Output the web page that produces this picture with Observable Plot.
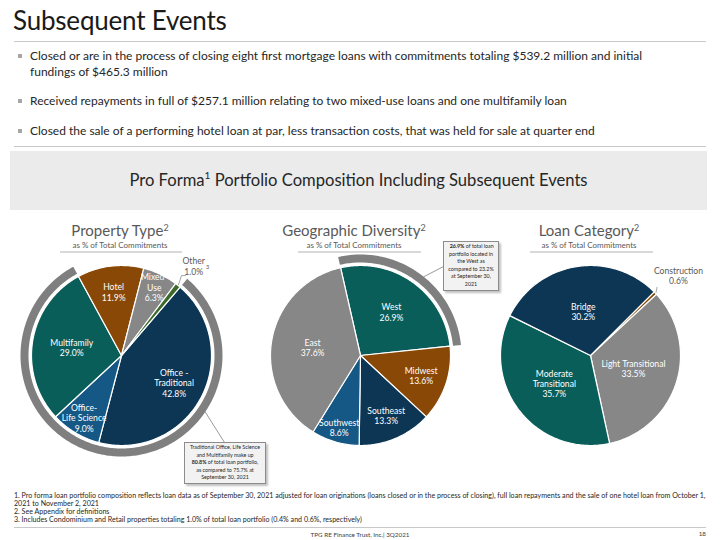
<!DOCTYPE html>
<html><head><meta charset="utf-8">
<script src="https://cdn.jsdelivr.net/npm/d3@7"></script>
<script src="https://cdn.jsdelivr.net/npm/@observablehq/plot@0.6"></script>
<style>
body{margin:0;background:#fff;font-family:Lato,"Open Sans",sans-serif;}
#page{position:relative;width:720px;height:540px;overflow:hidden;background:#fff;}
.abs{position:absolute;white-space:nowrap;}
.rule{position:absolute;left:14px;width:692px;height:0;border-top:1.5px solid #c8c8c8;}
.bullet{position:absolute;left:30px;font-size:12px;color:#262626;line-height:16px;white-space:nowrap;}
.bullet::before{content:"";position:absolute;left:-12px;top:6px;width:4px;height:4px;background:#a6a6a6;}
.ptitle{position:absolute;width:200px;text-align:center;color:#595959;}
.ptitle .t{font-size:15px;line-height:18px;}
.ptitle .s{font-size:8px;line-height:10px;margin-top:1px;}
.ptitle sup{font-size:9px;vertical-align:top;position:relative;top:-2px;}
.uline{position:absolute;height:0;border-top:2px solid #d9d9d9;}
.callout{position:absolute;background:#f2f2f2;border:1px solid #8c8c8c;box-shadow:2px 2px 2px rgba(0,0,0,0.25);color:#262626;text-align:center;font-size:5.3px;line-height:7.6px;white-space:nowrap;box-sizing:border-box;padding-top:1px;}
.foot{position:absolute;left:14px;font-size:7.1px;line-height:7.9px;color:#262626;white-space:nowrap;}
#chart{position:absolute;left:0;top:212px;}
</style></head><body><div id="page">
<div class="abs" style="left:13px;top:4px;font-size:26px;letter-spacing:-0.2px;color:#1a1a1a;">Subsequent Events</div>
<div class="rule" style="top:41px;"></div>
<div class="bullet" style="top:48px;">Closed or are in the process of closing eight first mortgage loans with commitments totaling $539.2 million and initial<br>fundings of $465.3 million</div>
<div class="bullet" style="top:93px;">Received repayments in full of $257.1 million relating to two mixed-use loans and one multifamily loan</div>
<div class="bullet" style="top:123px;">Closed the sale of a performing hotel loan at par, less transaction costs, that was held for sale at quarter end</div>
<div class="rule" style="top:146px;"></div>
<div class="abs" style="left:10px;top:151px;width:697px;height:59px;background:#ebebeb;"></div>
<div class="abs" style="left:10px;top:170px;width:697px;text-align:center;font-size:16.6px;color:#262626;">Pro Forma<sup style="font-size:10px;vertical-align:top;position:relative;top:-1px;">1</sup> Portfolio Composition Including Subsequent Events</div>
<div id="chart"></div>
<div class="ptitle" style="left:20px;top:221px;"><div class="t">Property Type<sup>2</sup></div><div class="s">as % of Total Commitments</div></div>
<div class="ptitle" style="left:254px;top:221px;"><div class="t">Geographic Diversity<sup>2</sup></div><div class="s">as % of Total Commitments</div></div>
<div class="ptitle" style="left:489px;top:221px;"><div class="t">Loan Category<sup>2</sup></div><div class="s">as % of Total Commitments</div></div>
<div class="uline" style="left:60px;width:122px;top:251px;"></div>
<div class="uline" style="left:298px;width:123px;top:251px;"></div>
<div class="uline" style="left:530px;width:123px;top:251px;"></div>
<div class="callout" style="left:184px;top:442px;width:82px;height:42px;">Traditional Office, Life Science<br>and Multifamily make up<br><b>80.8%</b> of total loan portfolio,<br>as compared to 75.7% at<br>September 30, 2021</div>
<div class="callout" style="left:443px;top:241px;width:56px;height:50px;">&nbsp;<b>26.9%</b> of total loan<br>portfolio located in<br>the West as<br>compared to 23.2%<br>at September 30,<br>2021</div>
<div class="foot" style="top:492px;">1. Pro forma loan portfolio composition reflects loan data as of September 30, 2021 adjusted for loan originations (loans closed or in the process of closing), full loan repayments and the sale of one hotel loan from October 1,<br>2021 to November 2, 2021<br>2. See Appendix for definitions<br>3. Includes Condominium and Retail properties totaling 1.0% of total loan portfolio (0.4% and 0.6%, respectively)</div>
<div class="rule" style="top:527px;"></div>
<div class="abs" style="left:0;width:720px;top:531px;text-align:center;font-size:6.3px;color:#404040;">TPG RE Finance Trust, Inc.| 3Q2021</div>
<div class="abs" style="left:690px;width:16px;top:530px;text-align:right;font-size:6.3px;color:#404040;">18</div>
</div>
<script>
// ---- data ----
const propertyTypes = ["Office - Traditional", "Office-Life Science", "Multifamily", "Hotel", "Mixed-Use", "Other"];
const propertyLabels = ["Office -\nTraditional", "Office-\nLife Science", "Multifamily", "Hotel", "Mixed-\nUse", "Other"];
const propertyValues = [42.8, 9.0, 29.0, 11.9, 6.3, 1.0];
const propertyHighlight = ["Office - Traditional", "Office-Life Science", "Multifamily"];

const regions = ["West", "Midwest", "Southeast", "Southwest", "East"];
const regionValues = [26.9, 13.6, 13.3, 8.6, 37.6];
const regionHighlight = ["West"];

const loanCategories = ["Construction", "Light Transitional", "Moderate Transitional", "Bridge"];
const loanLabels = ["Construction", "Light Transitional", "Moderate\nTransitional", "Bridge"];
const loanValues = [0.6, 33.5, 35.7, 30.2];

// ---- styles / layout ----
const palette = {
  "Office - Traditional": "#0c3654", "Office-Life Science": "#155885", "Multifamily": "#0a5e5a",
  "Hotel": "#8a4806", "Mixed-Use": "#878787", "Other": "#3d6a2b",
  "West": "#0a5e5a", "Midwest": "#8a4806", "Southeast": "#0c3654", "Southwest": "#155885", "East": "#878787",
  "Construction": "#8a4806", "Light Transitional": "#878787", "Moderate Transitional": "#0a5e5a", "Bridge": "#0c3654"
};
const W = 720, H = 276, TOP = 212, R = 90;
const fmt = v => v.toFixed(1) + "%";
const pies = [
  {names: propertyTypes, labels: propertyLabels, values: propertyValues, highlight: propertyHighlight,
   cx: 121, cy: 355 - TOP, start: 40.6, outside: {"Other": {dx: 0, leader: "bracket", note: "3"}},
   labelR: {"Office - Traditional": 0.66, "Office-Life Science": 0.81, "Multifamily": 0.56, "Hotel": 0.71, "Mixed-Use": 0.84}},
  {names: regions, labels: regions, values: regionValues, highlight: regionHighlight,
   cx: 360, cy: 355 - TOP, start: -12.8, outside: {},
   labelR: {"West": 0.59, "Midwest": 0.71, "Southeast": 0.73, "Southwest": 0.84, "East": 0.54}},
  {names: loanCategories, labels: loanLabels, values: loanValues, highlight: [],
   cx: 590, cy: 355 - TOP, start: 45, outside: {"Construction": {dx: 5, leader: "tick"}},
   labelR: {"Light Transitional": 0.5, "Moderate Transitional": 0.51, "Bridge": 0.49}}
];
const rad = d => d * Math.PI / 180;
const pt = (p, a, r) => [p.cx + r * Math.sin(a), p.cy - r * Math.cos(a)];

const sliceRows = [], ringRows = [], insideLabels = [], outsideLabels = [], leaderRows = [], noteLabels = [];
pies.forEach((p, pi) => {
  const total = d3.sum(p.values);
  let a = rad(p.start);
  const arcs = p.values.map((v, i) => { const a0 = a; a += v / total * 2 * Math.PI; return {i, a0, a1: a, name: p.names[i]}; });
  arcs.forEach(s => {
    const id = pi + "-" + s.i;
    const n = Math.max(2, Math.ceil((s.a1 - s.a0) / rad(1)));
    const pts = [[p.cx, p.cy]];
    for (let k = 0; k <= n; k++) pts.push(pt(p, s.a0 + (s.a1 - s.a0) * k / n, R));
    pts.push([p.cx, p.cy]);
    pts.forEach(q => sliceRows.push({id, name: s.name, x: q[0], y: q[1]}));
    const mid = (s.a0 + s.a1) / 2;
    const text = p.labels[s.i] + "\n" + fmt(p.values[s.i]);
    const o = p.outside[s.name];
    if (o) {
      const [lx, ly] = pt(p, mid, R * 1.28);
      outsideLabels.push({x: lx + o.dx, y: ly, text});
      const [ex, ey] = pt(p, mid, R + 1);
      if (o.leader === "bracket") {
        leaderRows.push({id: "l" + id, x: ex, y: ey}, {id: "l" + id, x: ex + 3, y: ey - 9}, {id: "l" + id, x: ex + 7, y: ey - 9});
      } else {
        leaderRows.push({id: "l" + id, x: ex, y: ey}, {id: "l" + id, x: ex + 1, y: ey - 5});
      }
      if (o.note) noteLabels.push({x: lx + o.dx + 14, y: ly + 2, text: o.note});
    } else {
      const [lx, ly] = pt(p, mid, R * p.labelR[s.name]);
      insideLabels.push({x: lx, y: ly, text});
    }
  });
  // highlight ring
  const hs = arcs.filter(s => p.highlight.includes(s.name));
  if (hs.length) {
    const a0 = d3.min(hs, s => s.a0), a1 = d3.max(hs, s => s.a1);
    const n = Math.ceil((a1 - a0) / rad(1));
    const pts = [];
    for (let k = 0; k <= n; k++) pts.push(pt(p, a0 + (a1 - a0) * k / n, R + 11));
    for (let k = n; k >= 0; k--) pts.push(pt(p, a0 + (a1 - a0) * k / n, R + 3));
    pts.push(pts[0]);
    pts.forEach(q => ringRows.push({id: "r" + pi, x: q[0], y: q[1]}));
  }
});
// callout leaders (ring edge to callout box)
const callouts = [
  {pie: 0, angle: 124, x2: 224, y2: 442 - TOP},
  {pie: 1, angle: 38.8, x2: 443, y2: 266 - TOP}
];
const calloutRows = callouts.flatMap((c, i) => {
  const [x1, y1] = pt(pies[c.pie], rad(c.angle), R + 11);
  return [{id: "c" + i, x: x1, y: y1}, {id: "c" + i, x: c.x2, y: c.y2}];
});

const chart = Plot.plot({
  width: W, height: H, margin: 0,
  style: {background: "transparent", overflow: "visible"},
  x: {domain: [0, W], range: [0, W], axis: null},
  y: {domain: [0, H], range: [0, H], axis: null},
  color: {domain: Object.keys(palette), range: Object.values(palette)},
  marks: [
    Plot.line(ringRows, {x: "x", y: "y", z: "id", fill: "#7f7f7f", stroke: "none", curve: "linear"}),
    Plot.line(sliceRows, {x: "x", y: "y", z: "id", fill: "name", stroke: "white", strokeWidth: 1.2, strokeLinejoin: "round", curve: "linear"}),
    Plot.line(calloutRows, {x: "x", y: "y", z: "id", stroke: "#7f7f7f", strokeWidth: 0.8, curve: "linear"}),
    Plot.line(leaderRows, {x: "x", y: "y", z: "id", stroke: "#7f7f7f", strokeWidth: 0.7, curve: "linear"}),
    Plot.text(insideLabels, {x: "x", y: "y", text: "text", fill: "white", fontSize: 8.6, lineHeight: 1.2, lineAnchor: "middle", fontFamily: "Lato"}),
    Plot.text(outsideLabels, {x: "x", y: "y", text: "text", fill: "#595959", fontSize: 8.6, lineHeight: 1.25, lineAnchor: "middle", fontFamily: "Lato"}),
    Plot.text(noteLabels, {x: "x", y: "y", text: "text", fill: "#595959", fontSize: 5.5, fontFamily: "Lato"})
  ]
});
document.getElementById("chart").appendChild(chart);
</script>
</body></html>
